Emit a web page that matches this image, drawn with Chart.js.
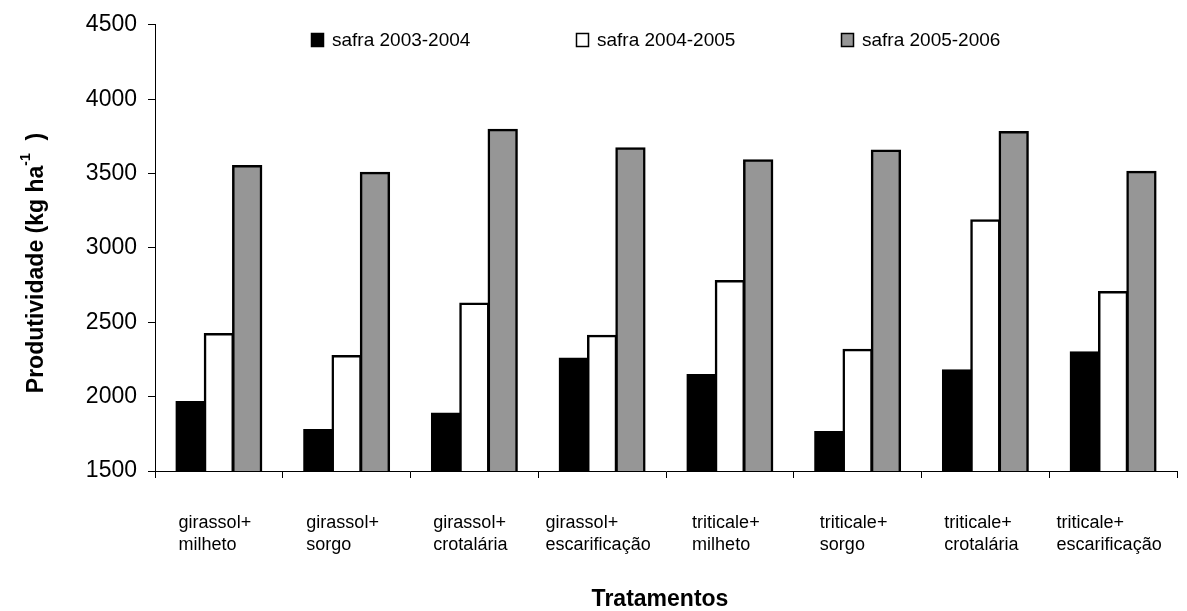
<!DOCTYPE html>
<html>
<head>
<meta charset="utf-8">
<script src="https://cdn.jsdelivr.net/npm/chart.js@4"></script>
<style>
  html, body { margin: 0; padding: 0; background: #fff; }
  canvas { display: block; }
</style>
</head>
<body>
<canvas id="prodChart" width="1187" height="611"></canvas>
<script>
// treatments (x categories), each label is two lines
const tratamentos = [
    ['girassol+', 'milheto'],
    ['girassol+', 'sorgo'],
    ['girassol+', 'crotalária'],
    ['girassol+', 'escarificação'],
    ['triticale+', 'milheto'],
    ['triticale+', 'sorgo'],
    ['triticale+', 'crotalária'],
    ['triticale+', 'escarificação']
];

const safraLabels = ['safra 2003-2004', 'safra 2004-2005', 'safra 2005-2006'];

// yield values (kg/ha)
const safra2003 = [1964, 1776, 1886, 2256, 2146, 1762, 2177, 2298];
const safra2004 = [2421, 2273, 2626, 2410, 2778, 2316, 3186, 2704];
const safra2005 = [3550, 3505, 3795, 3670, 3590, 3655, 3780, 3512];

const yTicks = [1500, 2000, 2500, 3000, 3500, 4000, 4500];

const FONT = "'Liberation Sans', Arial, sans-serif";

// draws legend, two-line category labels and the axis titles
const textPlugin = {
    id: 'textPlugin',
    afterDraw(chart) {
        const ctx = chart.ctx;
        const area = chart.chartArea;
        const xScale = chart.scales.x;
        ctx.save();
        ctx.fillStyle = '#000';

        // legend inside the plot, at the top
        ctx.font = '19px ' + FONT;
        ctx.textBaseline = 'middle';
        ctx.textAlign = 'left';
        chart.data.datasets.forEach((ds, i) => {
            const bx = area.left + 156 + i * 265;
            const by = 33;
            ctx.fillStyle = ds.backgroundColor;
            ctx.fillRect(bx, by, 13, 14);
            ctx.strokeStyle = '#000';
            ctx.lineWidth = 1.5;
            ctx.strokeRect(bx + 0.5, by + 0.5, 12, 13);
            ctx.fillStyle = '#000';
            ctx.fillText(ds.label, bx + 21, by + 8);
        });

        // category labels: block centred on the category, lines left aligned
        ctx.font = '18px ' + FONT;
        ctx.textBaseline = 'alphabetic';
        chart.data.labels.forEach((lines, i) => {
            const cx = xScale.getPixelForValue(i);
            const w = Math.max(...lines.map(l => ctx.measureText(l).width));
            lines.forEach((l, j) => {
                ctx.fillText(l, cx - w / 2 - 4, area.bottom + 57 + j * 22);
            });
        });

        // x title
        ctx.font = 'bold 23px ' + FONT;
        ctx.textAlign = 'center';
        ctx.fillText('Tratamentos', (area.left + area.right) / 2 - 6, 606);

        // y title with superscript
        const big = 'bold 23px ' + FONT;
        const small = 'bold 14px ' + FONT;
        const p1 = 'Produtividade (kg ha';
        const p2 = '-1';
        const p3 = '  )';
        ctx.font = big;
        const w1 = ctx.measureText(p1).width;
        const w3 = ctx.measureText(p3).width;
        ctx.font = small;
        const w2 = ctx.measureText(p2).width;
        const total = w1 + w2 + w3;
        ctx.translate(37, 263);
        ctx.rotate(-Math.PI / 2);
        ctx.textAlign = 'left';
        ctx.textBaseline = 'middle';
        let x = -total / 2;
        ctx.font = big;
        ctx.fillText(p1, x, 0);
        x += w1;
        ctx.font = small;
        ctx.fillText(p2, x, -11);
        x += w2;
        ctx.font = big;
        ctx.fillText(p3, x, 0);
        ctx.restore();
    }
};

const ctxProd = document.getElementById('prodChart').getContext('2d');

let prodChart = new Chart(ctxProd, {
    type: 'bar',
    data: {
        labels: tratamentos,
        datasets: [{
            label: safraLabels[0],
            data: safra2003,
            backgroundColor: '#000000',
            borderColor: '#000000',
            borderWidth: 2.5
        }, {
            label: safraLabels[1],
            data: safra2004,
            backgroundColor: '#ffffff',
            borderColor: '#000000',
            borderWidth: 2.5
        }, {
            label: safraLabels[2],
            data: safra2005,
            backgroundColor: '#969696',
            borderColor: '#000000',
            borderWidth: 2.5
        }]
    },
    options: {
        responsive: false,
        animation: false,
        layout: {
            padding: { top: 23, right: 10, left: 0, bottom: 0 }
        },
        datasets: {
            bar: {
                barPercentage: 1.0,
                categoryPercentage: 0.665,
                inflateAmount: 1
            }
        },
        plugins: {
            legend: { display: false },
            tooltip: { enabled: false }
        },
        scales: {
            x: {
                grid: {
                    drawOnChartArea: false,
                    drawTicks: true,
                    tickLength: 7,
                    color: '#000',
                    offset: true
                },
                border: { display: true, color: '#000', width: 1 },
                ticks: { display: false },
                afterFit(scale) { scale.height = 140; }
            },
            y: {
                min: 1500,
                max: 4500,
                afterBuildTicks(scale) {
                    scale.ticks = yTicks.map(v => ({ value: v }));
                },
                grid: {
                    drawOnChartArea: false,
                    drawTicks: true,
                    tickLength: 7,
                    color: '#000'
                },
                border: { display: true, color: '#000', width: 1 },
                ticks: {
                    color: '#000',
                    padding: 11,
                    font: { family: FONT, size: 23 },
                    callback: v => String(v)
                },
                afterFit(scale) { scale.width = 155; }
            }
        }
    },
    plugins: [textPlugin]
});
</script>
</body>
</html>
